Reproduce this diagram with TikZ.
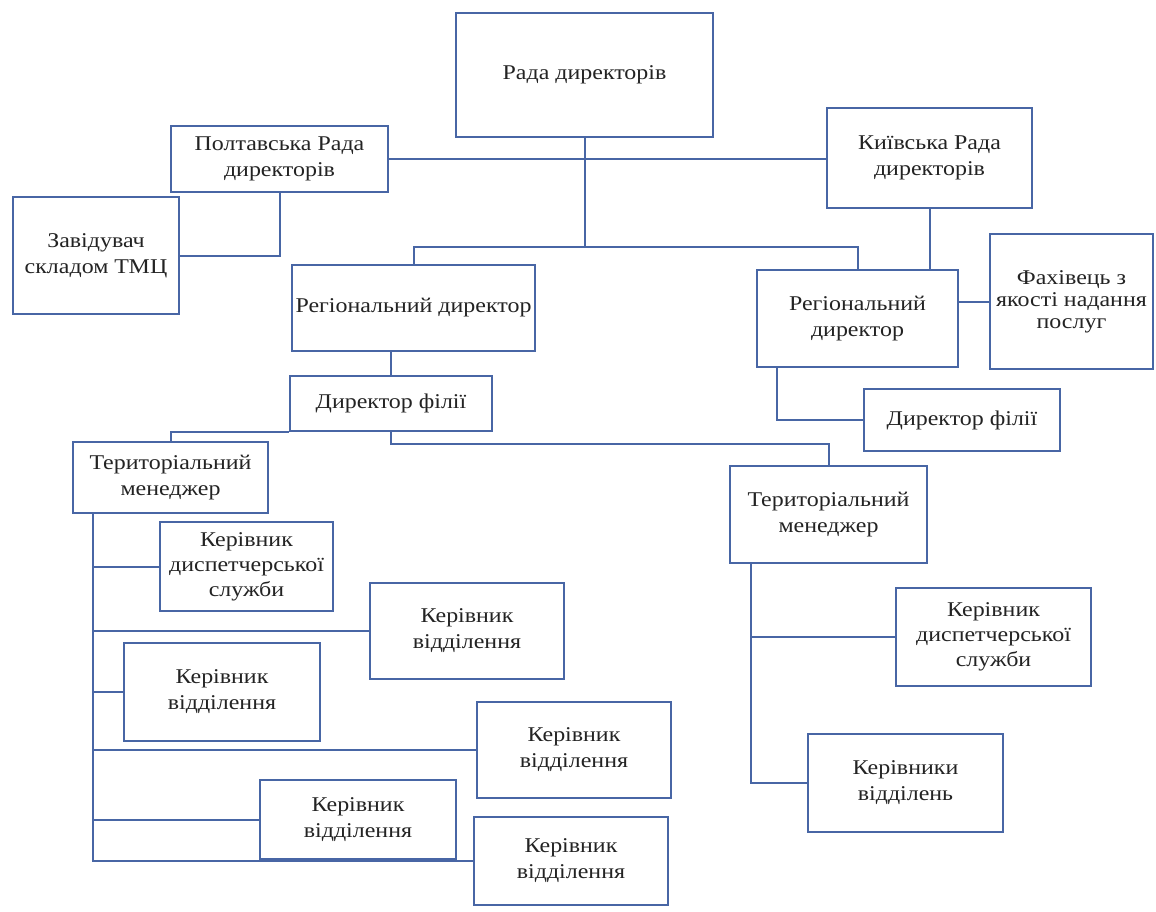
\documentclass[tikz,border=0pt]{standalone}
\usepackage{fontspec}
\setmainfont[FakeStretch=1.14]{Liberation Serif}
\definecolor{lineblue}{RGB}{72,102,165}
\definecolor{txt}{RGB}{35,35,35}
\begin{document}
\begin{tikzpicture}[x=1pt,y=-1pt,
  box/.style={draw=lineblue,line width=2pt,fill=white,align=center,text=txt,
    inner sep=1pt,font=\fontsize{21}{26}\selectfont},
  conn/.style={draw=lineblue,line width=2pt}]
\useasboundingbox[fill=white] (0,0) rectangle (1156,911);
% nodes
\node[box,minimum width=257,minimum height=124] (rada) at (584.5,75) {Рада директорів};
\node[box,minimum width=217,minimum height=66] (poltava) at (279.5,159) {Полтавська Рада\\директорів};
\node[box,minimum width=166,minimum height=117] (zav) at (96,255.5) {Завідувач\\складом ТМЦ};
\node[box,minimum width=205,minimum height=100] (kyiv) at (929.5,158) {Київська Рада\\директорів};
\node[box,minimum width=243,minimum height=86] (regL) at (413.5,308) {Регіональний директор};
\node[box,minimum width=201,minimum height=97] (regR) at (857.5,318.5) {Регіональний\\директор};
\node[box,minimum width=163,minimum height=135,font=\fontsize{21}{22}\selectfont] (fakh) at (1071.5,301.5) {Фахівець з\\якості надання\\послуг};
\node[box,minimum width=196,minimum height=62] (dirR) at (962,420) {Директор філії};
\node[box,minimum width=202,minimum height=55] (dirL) at (391,403.5) {Директор філії};
\node[box,minimum width=195,minimum height=71] (terL) at (170.5,477.5) {Територіальний\\менеджер};
\node[box,minimum width=197,minimum height=97] (terR) at (828.5,514.5) {Територіальний\\менеджер};
\node[box,minimum width=173,minimum height=89,font=\fontsize{21}{25}\selectfont] (dispL) at (246.5,566.5) {Керівник\\диспетчерської\\служби};
\node[box,minimum width=195,minimum height=98,font=\fontsize{21}{25}\selectfont] (dispR) at (993.5,637) {Керівник\\диспетчерської\\служби};
\node[box,minimum width=195,minimum height=98] (kvR) at (905.5,783) {Керівники\\відділень};
\node[box,minimum width=194,minimum height=96] (vA) at (467,631) {Керівник\\відділення};
\node[box,minimum width=196,minimum height=98] (vB) at (222,692) {Керівник\\відділення};
\node[box,minimum width=194,minimum height=96] (vC) at (574,750) {Керівник\\відділення};
\node[box,minimum width=196,minimum height=79] (vD) at (358,819.5) {Керівник\\відділення};
\node[box,minimum width=194,minimum height=88] (vE) at (571,861) {Керівник\\відділення};
% junction coordinates
\coordinate (j1) at (584.5,247);
\coordinate (j2) at (391,444);
\coordinate (tlx) at (93,0);
\coordinate (trx) at (751,0);
% connectors
\draw[conn] (rada.south) -- (j1);
\draw[conn] (poltava.east) -- (poltava.east -| kyiv.west);
\draw[conn] (regL.north) |- (j1) -| (regR.north);
\draw[conn] (poltava.south) |- (zav.east);
\draw[conn] (kyiv.south) -- (kyiv.south |- regR.north);
\draw[conn] (fakh.west -| regR.east) -- (fakh.west);
\draw[conn] (regR.south west) ++(21,0) |- (dirR.west);
\draw[conn] (dirL.north) -- (dirL.north |- regL.south);
\draw[conn] (dirL.south west) -| (terL.north);
\draw[conn] (dirL.south) -- (j2) -| (terR.north);
\draw[conn] (terL.south -| tlx) |- (vE.west);
\draw[conn] (dispL.west -| tlx) -- (dispL.west);
\draw[conn] (vA.west -| tlx) -- (vA.west);
\draw[conn] (vB.west -| tlx) -- (vB.west);
\draw[conn] (vC.west -| tlx) -- (vC.west);
\draw[conn] (vD.west -| tlx) -- (vD.west);
\draw[conn] (terR.south -| trx) |- (kvR.west);
\draw[conn] (dispR.west -| trx) -- (dispR.west);
\end{tikzpicture}
\end{document}
